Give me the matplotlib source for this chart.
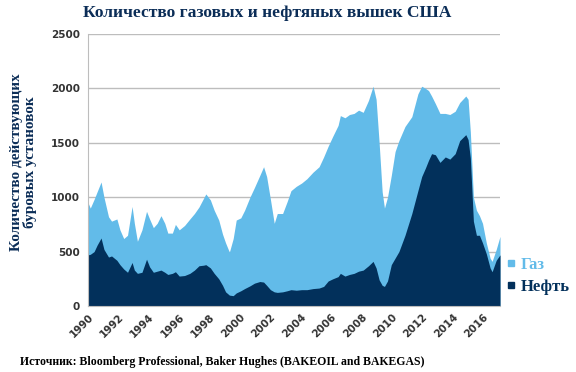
import matplotlib
matplotlib.use("Agg")
import matplotlib.pyplot as plt
from matplotlib.lines import Line2D
import numpy as np

# rig counts (year, total rigs, oil rigs)
years = [1990.00, 1990.15, 1990.40, 1990.60, 1990.86, 1991.05, 1991.35, 1991.55, 1991.90,
         1992.10, 1992.35, 1992.60, 1992.90, 1993.05, 1993.25, 1993.55, 1993.85, 1994.05,
         1994.30, 1994.55, 1994.80, 1995.05, 1995.25, 1995.55, 1995.75, 1996.00, 1996.35,
         1996.70, 1997.00, 1997.30, 1997.60, 1997.75, 1998.05, 1998.30, 1998.60, 1998.85,
         1999.05, 1999.30, 1999.55, 1999.75, 2000.05, 2000.30, 2000.65, 2000.95, 2001.30,
         2001.55, 2001.75, 2002.00, 2002.25, 2002.45, 2002.80, 2003.10, 2003.35, 2003.70,
         2004.05, 2004.40, 2004.80, 2005.20, 2005.50, 2005.80, 2006.10, 2006.45, 2006.60,
         2006.90, 2007.20, 2007.50, 2007.80, 2008.10, 2008.45, 2008.75, 2008.95, 2009.15,
         2009.35, 2009.50, 2009.70, 2009.95, 2010.20, 2010.45, 2010.85, 2011.30, 2011.70,
         2011.95, 2012.20, 2012.40, 2012.60, 2012.85, 2013.15, 2013.50, 2013.80, 2014.15,
         2014.45, 2014.85, 2015.00, 2015.15, 2015.35, 2015.55, 2015.75, 2015.95, 2016.20,
         2016.45, 2016.58, 2016.85, 2017.10]
total = [950, 900, 980, 1050, 1140, 1000, 820, 780, 800,
         700, 620, 650, 915, 760, 595, 700, 870, 800,
         720, 760, 830, 760, 670, 670, 750, 700, 740,
         800, 850, 910, 990, 1030, 975, 880, 790, 660,
         580, 495, 620, 790, 810, 880, 1000, 1090, 1200,
         1280, 1190, 980, 760, 850, 850, 960, 1060, 1100,
         1130, 1170, 1230, 1280, 1370, 1470, 1560, 1660, 1750,
         1730, 1760, 1770, 1800, 1780, 1890, 2020, 1900, 1500,
         1050, 900, 1000, 1200, 1420, 1520, 1650, 1740, 1950,
         2020, 2000, 1980, 1930, 1860, 1770, 1770, 1760, 1790,
         1870, 1930, 1900, 1600, 1000, 880, 830, 760, 580,
         440, 410, 520, 640]
oil = [470, 475, 500, 560, 625, 520, 450, 460, 420,
       380, 340, 310, 400, 330, 300, 310, 430, 360,
       310, 320, 330, 310, 290, 300, 315, 275, 280,
       300, 330, 370, 375, 380, 350, 300, 250, 190,
       130, 100, 95, 120, 140, 160, 185, 210, 225,
       220, 190, 150, 130, 125, 130, 140, 150, 145,
       150, 150, 160, 165, 180, 230, 250, 270, 300,
       275, 290, 300, 320, 330, 370, 410, 350, 240,
       190, 180, 230, 380, 440, 500, 650, 850, 1060,
       1190, 1270, 1340, 1400, 1390, 1320, 1370, 1350, 1400,
       1520, 1575, 1530, 1360, 780, 650, 650, 580, 480,
       350, 315, 420, 470]
year_ticks = list(range(1990, 2017, 2))
legend_labels = ["Газ", "Нефть"]

gas_color = "#62bbe9"
oil_color = "#02305b"
title_color = "#0b2d57"

fig = plt.figure(figsize=(5.76, 3.72), dpi=100)
ax = fig.add_axes([88 / 576, 1 - 306 / 372, 412 / 576, 272 / 372])

ax.fill_between(years, 0, total, color=gas_color, lw=0)
ax.fill_between(years, 0, oil, color=oil_color, lw=0)

ax.set_xlim(1990, 2017.1)
ax.set_ylim(0, 2500)
ax.set_yticks(np.arange(0, 2501, 500))
ax.set_xticks(year_ticks)
ax.set_xticklabels([str(y) for y in year_ticks], rotation=45, ha="right", va="top",
                   rotation_mode="anchor")
for lab in ax.get_xticklabels() + ax.get_yticklabels():
    lab.set_fontsize(7.5)
    lab.set_fontweight("bold")
    lab.set_color("#333333")
ax.tick_params(length=0, pad=6)
ax.tick_params(axis="x", pad=4)
ax.grid(axis="y", color="#bdbdbd", lw=1)
ax.set_axisbelow(True)
for s in ["top", "right"]:
    ax.spines[s].set_visible(False)
ax.spines["left"].set_color("#bdbdbd")
ax.spines["bottom"].set_color("#bdbdbd")

fig.text(267 / 576, 1 - 13 / 372, "Количество газовых и нефтяных вышек США", ha="center",
         va="center", family="Liberation Serif", fontweight="bold", fontsize=12.6,
         color=title_color)
fig.text(24 / 576, 1 - 162 / 372, "Количество действующих\nбуровых установок",
         rotation=90, ha="center", va="center", multialignment="center",
         family="Liberation Serif", fontweight="bold", fontsize=11, color=title_color,
         linespacing=1.0)
fig.text(20 / 576, 1 - 362 / 372,
         "Источник: Bloomberg Professional, Baker Hughes (BAKEOIL and BAKEGAS)",
         ha="left", va="center", family="Liberation Serif", fontweight="bold",
         fontsize=8.5, color="black")

handles = [Line2D([], [], marker="s", ls="", color=gas_color, markersize=4),
           Line2D([], [], marker="s", ls="", color=oil_color, markersize=4)]
leg = fig.legend(handles, legend_labels, loc="upper left",
                 bbox_to_anchor=(491 / 576, 1 - 242 / 372), frameon=False,
                 handlelength=0.6, handletextpad=0.3, labelspacing=0.35,
                 prop={"family": "Liberation Serif", "weight": "bold", "size": 12})
leg.get_texts()[0].set_color(gas_color)
leg.get_texts()[1].set_color(oil_color)

fig.savefig("out.png", dpi=100)
